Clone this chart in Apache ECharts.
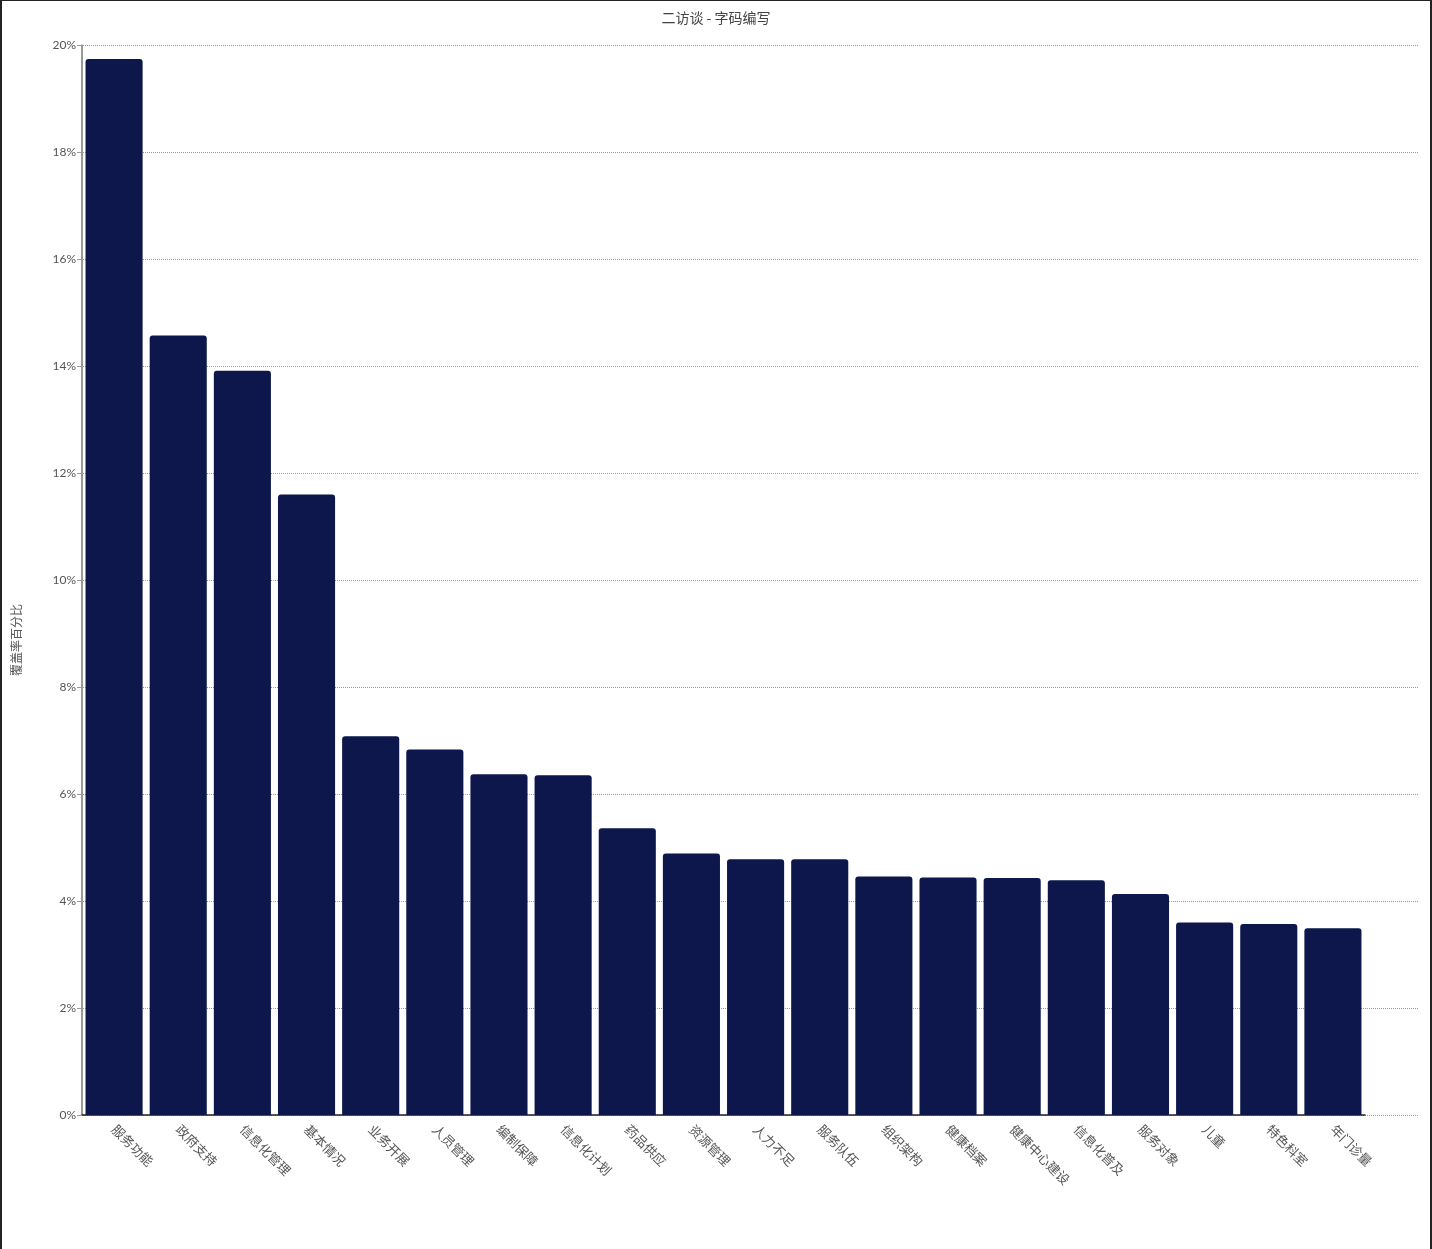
<!DOCTYPE html>
<html>
<head>
<meta charset="utf-8">
<script src="https://cdn.jsdelivr.net/npm/echarts@6/dist/echarts.min.js"></script>
<style>
  html, body { margin: 0; padding: 0; background: #fff; }
  #main { width: 1432px; height: 1249px; box-sizing: border-box; border-left: 2px solid #222; border-top: 1px solid #222; border-right: 2px solid #222; }
</style>
</head>
<body>
<div id="main"></div>
<script>
var categories = ['服务功能', '政府支持', '信息化管理', '基本情况', '业务开展', '人员管理', '编制保障',
  '信息化计划', '药品供应', '资源管理', '人力不足', '服务队伍', '组织架构', '健康档案',
  '健康中心建设', '信息化普及', '服务对象', '儿童', '特色科室', '年门诊量'];
var coverage = [19.74, 14.57, 13.91, 11.6, 7.08, 6.83, 6.37, 6.35, 5.36, 4.89, 4.78, 4.78,
  4.46, 4.44, 4.43, 4.39, 4.13, 3.6, 3.57, 3.49];
var yTicks = { min: 0, max: 20, interval: 2 };

var myChart = echarts.init(document.getElementById('main'));
var option = {
  animation: false,
  title: {
    text: '二访谈 - 字码编写',
    left: 'center',
    top: 5,
    textStyle: { fontSize: 14, fontWeight: 'normal', color: '#444', fontFamily: 'Noto Sans CJK SC' }
  },
  grid: [
    { left: 75, top: 44, bottom: 134, width: 1288, containLabel: false },
    { left: 75, top: 44, bottom: 134, right: 12, containLabel: false }
  ],
  xAxis: [{
    type: 'category',
    gridIndex: 0,
    data: categories,
    axisLine: { lineStyle: { color: '#222', width: 1.5 } },
    axisTick: { show: false },
    axisLabel: {
      rotate: -45,
      interval: 0,
      margin: 12,
      color: '#555',
      fontSize: 13,
      fontFamily: 'Noto Sans CJK SC'
    }
  }, {
    type: 'value',
    gridIndex: 1,
    min: 0,
    max: 1,
    show: false
  }],
  yAxis: [{
    type: 'value',
    gridIndex: 0,
    min: yTicks.min,
    max: yTicks.max,
    interval: yTicks.interval,
    name: '覆盖率百分比',
    nameLocation: 'middle',
    nameGap: 60,
    nameTextStyle: { color: '#555', fontSize: 12, fontFamily: 'Noto Sans CJK SC', padding: [0, 120, 0, 0] },
    axisLine: { show: true, lineStyle: { color: '#777', width: 1.5 } },
    axisTick: { show: true, length: 4, lineStyle: { color: '#999' } },
    axisLabel: { formatter: '{value}%', color: '#555', fontSize: 12, fontFamily: 'Lato', margin: 6 },
    splitLine: { show: false }
  }, {
    type: 'value',
    gridIndex: 1,
    min: yTicks.min,
    max: yTicks.max,
    interval: yTicks.interval,
    axisLine: { show: false },
    axisTick: { show: false },
    axisLabel: { show: false },
    splitLine: { show: true, lineStyle: { color: '#999', type: 'dotted', width: 1 } }
  }],
  series: [{
    type: 'bar',
    xAxisIndex: 0,
    yAxisIndex: 0,
    data: coverage,
    barCategoryGap: '11%',
    itemStyle: { color: '#0d174b', borderRadius: [3, 3, 0, 0] }
  }]
};
myChart.setOption(option);
</script>
</body>
</html>
